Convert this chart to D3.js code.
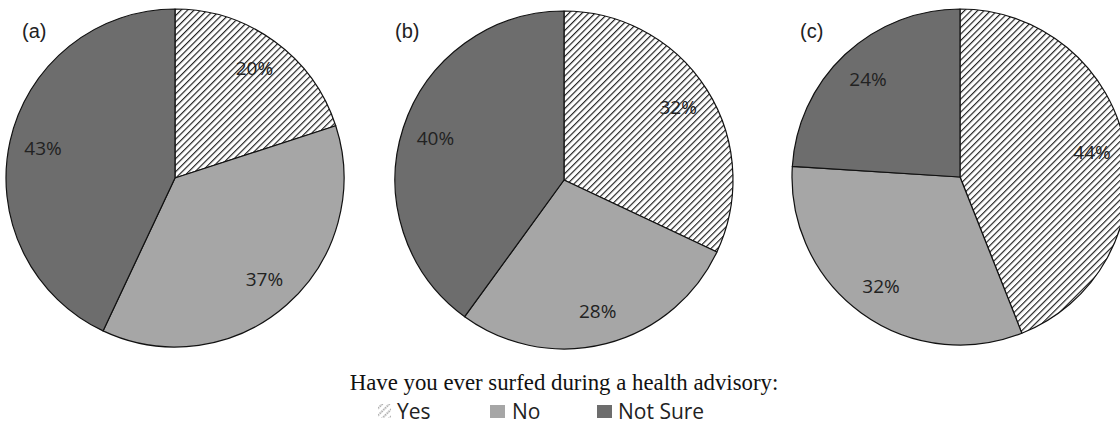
<!DOCTYPE html>
<html><head><meta charset="utf-8">
<script src="https://cdn.jsdelivr.net/npm/d3@7"></script>
<style>body{margin:0;background:#fff}svg{display:block}</style>
</head><body>
<svg id="chart" width="1120" height="425"></svg>
<script>
const categories = ["Yes", "No", "Not Sure"];
const panels = ["(a)", "(b)", "(c)"];
const valuesA = [20, 37, 43];
const valuesB = [32, 28, 40];
const valuesC = [44, 32, 24];
const seriesValues = [valuesA, valuesB, valuesC];
const title = "Have you ever surfed during a health advisory:";

const svg = d3.select("#chart");
const defs = svg.append("defs");
const hatch = defs.append("pattern").attr("id","hatch").attr("patternUnits","userSpaceOnUse")
  .attr("width",4.6).attr("height",10).attr("patternTransform","rotate(45)");
hatch.append("rect").attr("width",4.6).attr("height",10).attr("fill","#fff");
hatch.append("line").attr("x1",0.6).attr("y1",0).attr("x2",0.6).attr("y2",10).attr("stroke","#111").attr("stroke-width",1.1);
const hatchL = defs.append("pattern").attr("id","hatchL").attr("patternUnits","userSpaceOnUse")
  .attr("width",5).attr("height",10).attr("patternTransform","rotate(45)");
hatchL.append("rect").attr("width",5).attr("height",10).attr("fill","#fff");
hatchL.append("line").attr("x1",1).attr("y1",0).attr("x2",1).attr("y2",10).attr("stroke","#888").attr("stroke-width",1.3).attr("stroke-dasharray","1.6,0.9");

const color = d3.scaleOrdinal().domain(categories).range(["url(#hatch)", "#a6a6a6", "#6d6d6d"]);
const centers = [[175,178,169],[564,180,169],[960,177,168]];
const panelX = [22, 395, 800];
const pie = d3.pie().sort(null).value(d => d.v);
const sans = "'Open Sans', Lato, sans-serif";

seriesValues.forEach((vals, i) => {
  const [cx, cy, r] = centers[i];
  const g = svg.append("g").attr("transform", `translate(${cx},${cy})`);
  const arc = d3.arc().innerRadius(0).outerRadius(r);
  const labelArc = d3.arc().innerRadius(r*0.8).outerRadius(r*0.8);
  const data = pie(vals.map((v, k) => ({c: categories[k], v})));
  g.selectAll("path").data(data).join("path")
    .attr("d", arc).attr("fill", d => color(d.data.c))
    .attr("stroke", "#111").attr("stroke-width", 1.2).attr("stroke-linejoin","round");
  g.selectAll("text").data(data).join("text")
    .attr("transform", d => `translate(${labelArc.centroid(d)})`)
    .attr("text-anchor","middle").attr("dy","0.36em")
    .attr("font-family", sans).attr("font-size",19)
    .attr("fill","#222").text(d => d.data.v + "%");
  svg.append("text").attr("x", panelX[i]).attr("y", 38)
    .attr("font-family","'Liberation Sans', Arial, sans-serif").attr("font-size",20)
    .attr("fill","#222").text(panels[i]);
});

svg.append("text").attr("x", 564).attr("y", 390).attr("text-anchor","middle")
  .attr("font-family","'Liberation Serif', 'Times New Roman', serif").attr("font-size",22.8)
  .attr("fill","#111").text(title);

const markerX = [378, 490, 597];
const textX = [397, 512, 618];
const leg = svg.append("g");
categories.forEach((c, k) => {
  if (k === 0) {
    leg.append("rect").attr("x", markerX[k]).attr("y", 404).attr("width", 13).attr("height", 14)
      .attr("fill", "url(#hatchL)");
  } else {
    leg.append("rect").attr("x", markerX[k]).attr("y", 405).attr("width", 15).attr("height", 13)
      .attr("fill", color(c));
  }
  leg.append("text").attr("x", textX[k]).attr("y", 419)
    .attr("font-family", sans).attr("font-size",21)
    .attr("fill","#222").text(c);
});
</script>
</body></html>
